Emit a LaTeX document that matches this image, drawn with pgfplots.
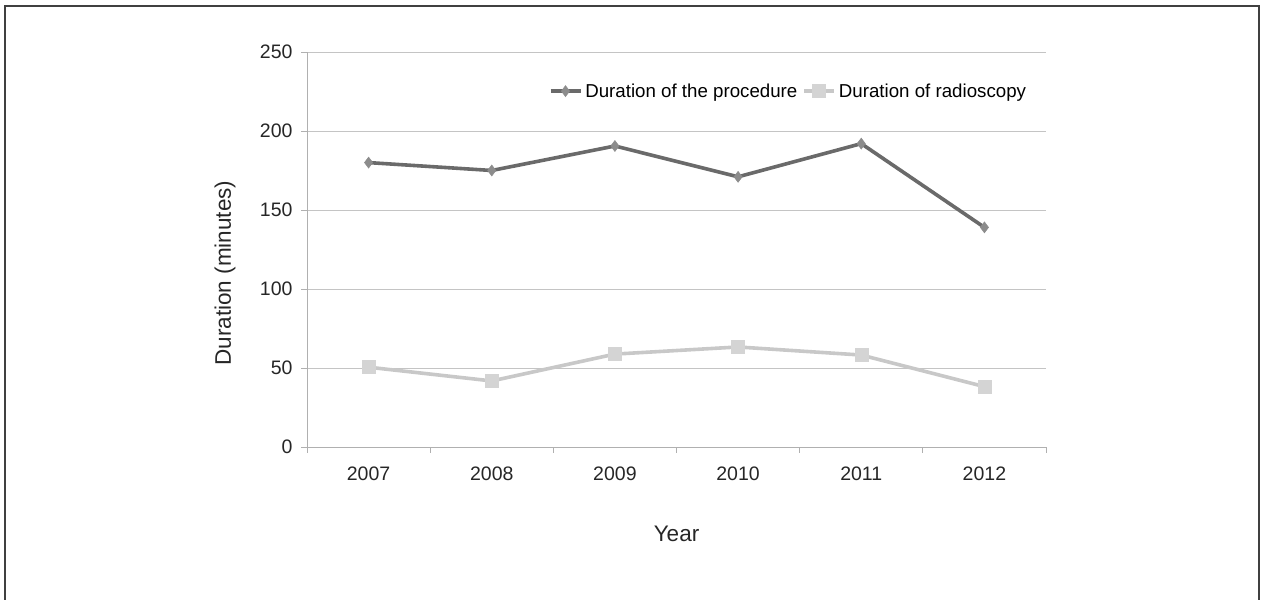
\documentclass[border=0pt]{standalone}
\usepackage{pgfplots}
\pgfplotsset{compat=1.18}
\usepackage{fontspec}
\setmainfont{Liberation Sans}
\definecolor{procline}{HTML}{6A6A6A}
\definecolor{procmark}{HTML}{8C8C8C}
\definecolor{radline}{HTML}{C8C8C8}
\definecolor{radmark}{HTML}{D4D4D4}
\definecolor{gridc}{HTML}{C4C4C4}
\definecolor{axisc}{HTML}{B0B0B0}
\begin{document}
\begin{tikzpicture}[x=1bp,y=1bp]
\useasboundingbox (0,0) rectangle (1265,600);
\draw[line width=2.2bp, color=black!75] (5,-2) -- (5,594) -- (1259,594) -- (1259,-2);
\begin{axis}[
  at={(307bp,153bp)}, anchor=south west,
  scale only axis, width=739bp, height=395bp,
  xmin=-0.5, xmax=5.5, ymin=0, ymax=250,
  xtick={0,...,5},
  xticklabels={2007,2008,2009,2010,2011,2012},
  minor xtick={-0.5,0.5,...,5.5},
  ytick={0,50,...,250},
  major x tick style={draw=none},
  minor tick length=6bp,
  major tick length=6bp,
  tick align=outside,
  tick style={color=axisc, line width=0.8bp},
  axis x line*=bottom, axis y line*=left,
  axis line style={-, color=axisc, line width=0.9bp},
  ymajorgrids,
  grid style={color=gridc, line width=0.9bp},
  /pgf/number format/assume math mode=true,
  tick label style={font=\fontsize{19.5bp}{23bp}\selectfont, color=black!85},
  xticklabel style={yshift=-10bp},
  yticklabel style={xshift=-5bp},
  xlabel={Year}, ylabel={Duration (minutes)},
  label style={font=\fontsize{22.5bp}{26bp}\selectfont, color=black!85},
  xlabel style={at={(axis description cs:0.5,0)}, anchor=center, yshift=-87bp},
  ylabel style={at={(axis description cs:-0.111,0.44)}, anchor=center},
  legend columns=2,
  legend style={at={(rel axis cs:0.98,0.901)}, anchor=east, draw=none, fill=none,
    font=\fontsize{18.7bp}{22bp}\selectfont, column sep=1bp,
    /tikz/every even column/.append style={column sep=3bp}},
  legend image code/.code={%
    \draw[#1,mark repeat=2,mark phase=2] plot coordinates {(0bp,0bp)(15bp,0bp)(30bp,0bp)};},
]
\addplot[color=procline, line width=3.6bp, mark=diamond*, mark size=5.5bp,
  mark options={fill=procmark, draw=procmark, line width=0.5bp}]
  coordinates {(0,180) (1,175) (2,190.5) (3,171) (4,192) (5,139)};
\addlegendentry{Duration of the procedure}
\addplot[color=radline, line width=3.6bp, mark=square*, mark size=6.5bp,
  mark options={fill=radmark, draw=radmark, line width=0.5bp}]
  coordinates {(0,50.5) (1,41.8) (2,58.8) (3,63.3) (4,58.2) (5,38.2)};
\addlegendentry{Duration of radioscopy}
\end{axis}
\end{tikzpicture}
\end{document}
